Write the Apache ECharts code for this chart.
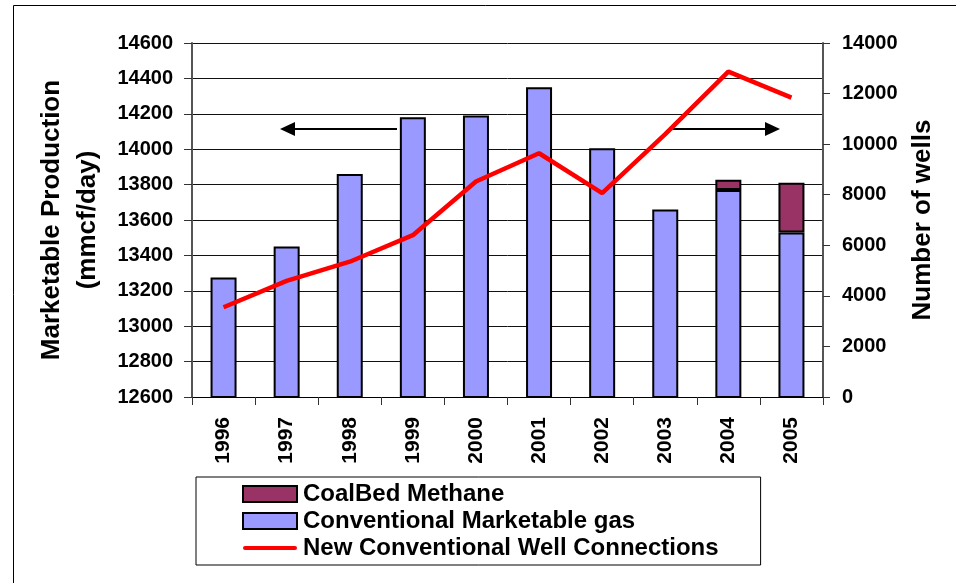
<!DOCTYPE html>
<html>
<head>
<meta charset="utf-8">
<script src="https://cdn.jsdelivr.net/npm/echarts@6/dist/echarts.min.js"></script>
<style>
html,body{margin:0;padding:0;background:#fff;}
#chart{width:956px;height:583px;}
</style>
</head>
<body>
<div id="chart"></div>
<script>
var years = ['1996','1997','1998','1999','2000','2001','2002','2003','2004','2005'];
var conventionalGas = [13275, 13450, 13860, 14180, 14190, 14350, 14005, 13660, 13770, 13530];
var coalBedMethane = [null, null, null, null, null, null, null, null, 58, 280];
var wellConnections = [3550, 4590, 5350, 6400, 8520, 9640, 8060, 10400, 12870, 11840];
var leftTicks = {min: 12600, max: 14600, interval: 200};
var rightTicks = {min: 0, max: 14000, interval: 2000};

var FONT = '"Liberation Sans", Arial, sans-serif';
var chart = echarts.init(document.getElementById('chart'), null, {renderer: 'canvas'});

function arrow(x1, x2, y) {
  var dir = x2 > x1 ? 1 : -1;
  var head = 15;
  return {
    type: 'group',
    children: [
      {type: 'line', shape: {x1: x1, y1: y, x2: x2 - dir * head, y2: y}, style: {stroke: '#000', lineWidth: 2}},
      {type: 'polygon', shape: {points: [[x2, y], [x2 - dir * head, y - 7], [x2 - dir * head, y + 7]]}, style: {fill: '#000'}}
    ]
  };
}
function plain(v) { return String(v); }

var option = {
  backgroundColor: '#fff',
  animation: false,
  textStyle: {fontFamily: FONT},
  grid: {left: 192, right: 133, top: 43, bottom: 186, containLabel: false},
  legend: {
    orient: 'vertical',
    left: 196,
    top: 477,
    padding: [5, 42, 5, 46],
    borderColor: '#000',
    borderWidth: 1,
    itemWidth: 54,
    itemHeight: 16,
    itemGap: 3,
    symbolKeepAspect: true,
    textStyle: {fontFamily: FONT, fontWeight: 'bold', fontSize: 24, color: '#000', padding: [0, 0, 0, 1]},
    data: [
      {name: 'CoalBed Methane', icon: 'rect'},
      {name: 'Conventional Marketable gas', icon: 'rect'},
      {name: 'New Conventional Well Connections', icon: 'path://M2,0 L52,0 A2,2 0 0 1 52,4 L2,4 A2,2 0 0 1 2,0 Z'}
    ]
  },
  xAxis: {
    type: 'category',
    data: years,
    axisLine: {lineStyle: {color: '#000', width: 1}},
    axisTick: {show: true, length: 8, lineStyle: {color: '#333'}},
    axisLabel: {rotate: 90, margin: 20, fontFamily: FONT, fontWeight: 'bold', fontSize: 21, color: '#000'}
  },
  yAxis: [
    {
      type: 'value',
      min: leftTicks.min, max: leftTicks.max, interval: leftTicks.interval,
      name: 'Marketable Production\n(mmcf/day)',
      nameLocation: 'middle',
      nameRotate: 90,
      nameGap: 86,
      nameTextStyle: {fontFamily: FONT, fontWeight: 'bold', fontSize: 26, color: '#000', lineHeight: 36, align: 'center'},
      axisLine: {show: true, lineStyle: {color: '#555', width: 2}},
      axisTick: {show: true, length: 8, lineStyle: {color: '#333'}},
      axisLabel: {margin: 19, fontFamily: FONT, fontWeight: 'bold', fontSize: 20, color: '#000', formatter: plain},
      splitLine: {show: true, lineStyle: {color: '#111', width: 1}}
    },
    {
      type: 'value',
      position: 'right',
      min: rightTicks.min, max: rightTicks.max, interval: rightTicks.interval,
      name: 'Number of wells',
      nameLocation: 'middle',
      nameRotate: 90,
      nameGap: 87,
      nameTextStyle: {fontFamily: FONT, fontWeight: 'bold', fontSize: 26, color: '#000'},
      axisLine: {show: true, lineStyle: {color: '#555', width: 2}},
      axisTick: {show: true, length: 7, lineStyle: {color: '#333'}},
      axisLabel: {margin: 19, fontFamily: FONT, fontWeight: 'bold', fontSize: 20, color: '#000', formatter: plain},
      splitLine: {show: false}
    }
  ],
  series: [
    {
      name: 'Conventional Marketable gas',
      type: 'bar',
      stack: 'prod',
      yAxisIndex: 0,
      barWidth: 26,
      data: conventionalGas,
      itemStyle: {color: '#9999FF', borderColor: '#000', borderWidth: 2}
    },
    {
      name: 'CoalBed Methane',
      type: 'bar',
      stack: 'prod',
      yAxisIndex: 0,
      barWidth: 26,
      data: coalBedMethane,
      itemStyle: {color: '#993366', borderColor: '#000', borderWidth: 2}
    },
    {
      name: 'New Conventional Well Connections',
      type: 'line',
      yAxisIndex: 1,
      data: wellConnections,
      symbol: 'none',
      lineStyle: {color: '#FF0000', width: 4.5},
      itemStyle: {color: '#FF0000'},
      z: 5
    }
  ],
  graphic: [
    {type: 'rect', left: 11, top: 3, shape: {width: 1100, height: 1100}, style: {fill: 'none', stroke: '#000', lineWidth: 1}, silent: true, z: -10},
    Object.assign(arrow(397, 280, 129), {z: 10}),
    Object.assign(arrow(673, 780, 129), {z: 10})
  ]
};
chart.setOption(option);
</script>
</body>
</html>
